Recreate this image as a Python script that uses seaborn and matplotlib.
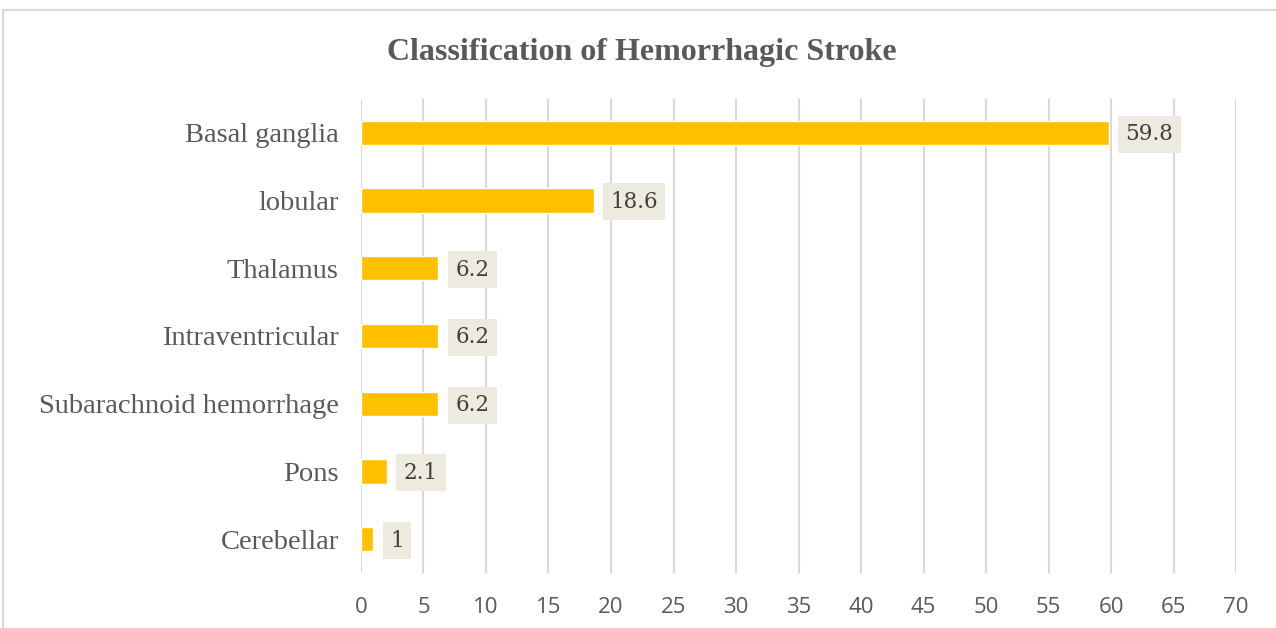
import matplotlib
matplotlib.use("Agg")
import matplotlib.pyplot as plt
import seaborn as sns
import pandas as pd
from matplotlib.patches import Rectangle

categories = ["Basal ganglia", "lobular", "Thalamus", "Intraventricular",
              "Subarachnoid hemorrhage", "Pons", "Cerebellar"]
values = [59.8, 18.6, 6.2, 6.2, 6.2, 2.1, 1]
value_labels = ["59.8", "18.6", "6.2", "6.2", "6.2", "2.1", "1"]
x_ticks = [0, 5, 10, 15, 20, 25, 30, 35, 40, 45, 50, 55, 60, 65, 70]

df = pd.DataFrame({"category": categories, "value": values})

sns.set_theme(style="white")
fig = plt.figure(figsize=(12.76, 6.28), dpi=100)
ax = fig.add_axes([0.2829, 0.0876, 0.6858, 0.7548])

sns.barplot(data=df, x="value", y="category", orient="h", color="#FFC000",
            saturation=1, width=0.36, ax=ax, order=categories)

ax.set_xlim(0, 70)
ax.set_ylim(len(categories) - 0.5, -0.5)
ax.set_xticks(x_ticks)
ax.set_xticklabels([str(t) for t in x_ticks], fontsize=16, color="#595959",
                   family="Open Sans")
ax.set_yticks(range(len(categories)))
ax.set_yticklabels(categories, fontsize=20.5, color="#595959", family="Liberation Serif")
ax.tick_params(axis="x", length=0, pad=17)
ax.tick_params(axis="y", length=0, pad=16)
ax.set_xlabel("")
ax.set_ylabel("")
ax.grid(axis="x", color="#D9D9D9", linewidth=1.5)
ax.set_axisbelow(True)
for s in ax.spines.values():
    s.set_visible(False)

for i, (v, lab) in enumerate(zip(values, value_labels)):
    ax.annotate(lab, xy=(v, i), xytext=(12, -1), textcoords="offset points",
                va="center", ha="left", fontsize=15.5, color="#404040",
                family="DejaVu Serif",
                bbox=dict(boxstyle="square,pad=0.35", facecolor="#EDEBE0",
                          edgecolor="none"))

fig.text(0.503, 0.917, "Classification of Hemorrhagic Stroke", ha="center",
         va="center", fontsize=23, fontweight="bold", color="#595959",
         family="Liberation Serif")

fig.patches.append(Rectangle((3 / 1276, -0.05), 1.2, 1 - 10 / 628 + 0.05,
                             transform=fig.transFigure, fill=False,
                             edgecolor="#D9D9D9", linewidth=1.5))

fig.savefig("out.png", dpi=100)
